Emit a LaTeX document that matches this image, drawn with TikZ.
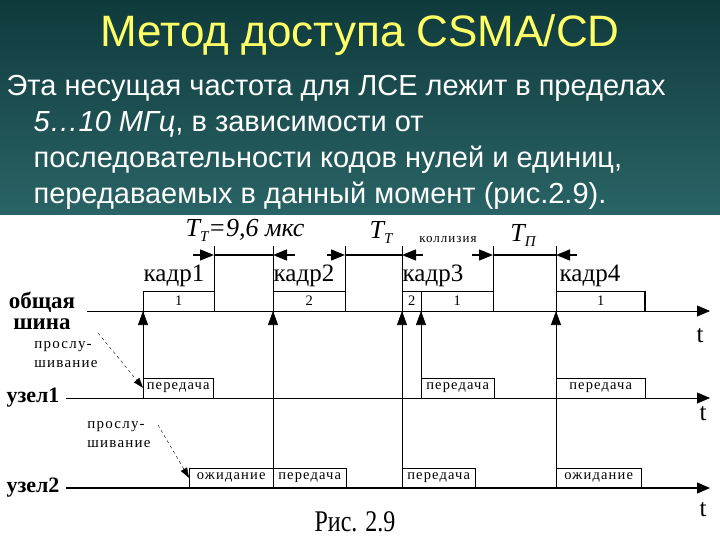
\documentclass[tikz,border=0pt]{standalone}
\usepackage{fontspec}
\setmainfont{Liberation Serif}
\newfontfamily\arial{Liberation Sans}
\newfontfamily\boxfont[LetterSpace=8]{Liberation Serif}
\usetikzlibrary{arrows.meta}
\definecolor{bgtop}{HTML}{0F3A3C}
\definecolor{bgmid}{HTML}{2A6466}
\definecolor{ttl}{HTML}{FFFF66}
\tikzset{
 box/.style={draw,thin,minimum height=20pt,inner sep=0pt,anchor=south west,font=\boxfont\fontsize{14.5}{14.5}\selectfont},
 upa/.style={-{Triangle[length=14pt,width=10pt]},line width=0.6pt},
 dimr/.style={-{Triangle[length=14pt,width=11pt]},line width=1.4pt},
 lbl/.style={font=\fontsize{25}{25}\selectfont},
 tl/.style={font=\fontsize{25}{25}\selectfont},
 body/.style={anchor=west,text=white,font=\arial\fontsize{29}{29}\selectfont},
 axis/.style={-{Triangle[length=13pt,width=11pt]}},
}
\begin{document}
\begin{tikzpicture}[x=1pt,y=-1pt]
\useasboundingbox (0,0) rectangle (720,540);
\shade[top color=bgtop,bottom color=bgmid] (0,0) rectangle (720,215);
\node (title) at (360,35) {\arial\color{ttl}\fontsize{44}{44}\selectfont Метод доступа CSMA/CD};
\node[body] (l1) at (3,88) {Эта несущая частота для ЛСЕ лежит в пределах};
\node[body] (l2) at (30,124) {\itshape 5…10 МГц\upshape, в зависимости от};
\node[body] (l3) at (30,160) {последовательности кодов нулей и единиц,};
\node[body] (l4) at (30,196) {передаваемых в данный момент (рис.2.9).};

% axes
\coordinate (b0) at (87,311); \coordinate (b1) at (710,311);
\coordinate (n10) at (66,398); \coordinate (n11) at (710,398);
\coordinate (n20) at (66,488); \coordinate (n21) at (710,488);
\draw[axis] (b0) -- (b1);
\draw[axis] (n10) -- (n11);
\draw[axis,line width=1.3pt] (n20) -- (n21);
\node[tl] (t1) at (700,336) {t};
\node[tl] (t2) at (703,414) {t};
\node[tl] (t3) at (703,510) {t};
\node[font=\bfseries\fontsize{23}{21}\selectfont,align=center] (bus) at (42,311) {общая\\шина};
\node[font=\bfseries\fontsize{22}{22}\selectfont] (u1) at (33,398) {узел1};
\node[font=\bfseries\fontsize{22}{22}\selectfont] (u2) at (33,488) {узел2};

% frames on bus
\node[box,minimum width=71pt] (f1) at (143,311) {1};
\node[box,minimum width=72pt] (f2) at (273,311) {2};
\node[box,minimum width=19pt] (f3a) at (402,311) {2};
\node[box,minimum width=72pt] (f3b) at (421,311) {1};
\node[box,minimum width=89pt] (f4) at (556,311) {1};
\draw[line width=1.5pt] (645,292) -- (645,311);
\node[lbl] (k1) at (174,276) {кадр1};
\node[lbl] (k2) at (304,276) {кадр2};
\node[lbl] (k3) at (433,276) {кадр3};
\node[lbl] (k4) at (590,276) {кадр4};

% dimension verticals
\coordinate (d1) at (214,246); \coordinate (d2) at (273,246);
\coordinate (d3) at (345,246); \coordinate (d4) at (402,246);
\coordinate (d5) at (493,246); \coordinate (d6) at (556,246);
\draw (d1) -- (214,292); \draw (d3) -- (345,292); \draw (d5) -- (493,311);
\draw (d2) -- (273,292); \draw (d4) -- (402,292); \draw (d6) -- (556,292);
\draw[line width=1.4pt] (214,255) -- (273,255);
\draw[line width=1.4pt] (345,255) -- (402,255);
\draw[line width=1.4pt] (493,255) -- (556,255);
\draw[dimr] (193,255) -- (214,255);
\draw[dimr] (295,255) -- (273,255);
\draw[dimr] (327,255) -- (345,255);
\draw[dimr] (423,255) -- (402,255);
\draw[dimr] (472,255) -- (493,255);
\draw[dimr] (577,255) -- (556,255);
\node[font=\itshape\fontsize{26}{26}\selectfont] (tt1) at (245,230) {T\raisebox{-5pt}{\fontsize{15}{15}\selectfont Т}=9,6 мкс};
\node[font=\itshape\fontsize{26}{26}\selectfont] (tt2) at (381,232) {T\raisebox{-5pt}{\fontsize{15}{15}\selectfont Т}};
\node[font=\boxfont\fontsize{13}{13}\selectfont] (kol) at (448,240) {коллизия};
\node[font=\itshape\fontsize{26}{26}\selectfont] (tp) at (523,235) {T\raisebox{-5pt}{\fontsize{15}{15}\selectfont П}};

% node1 boxes
\node[box,minimum width=70pt] (p1) at (143,398) {передача};
\node[box,minimum width=73pt] (p2) at (421,398) {передача};
\node[box,minimum width=89pt] (p3) at (556,398) {передача};
% node2 boxes
\node[box,minimum width=84pt] (w1) at (189,488) {ожидание};
\node[box,minimum width=73pt] (p4) at (273,488) {передача};
\node[box,minimum width=73pt] (p5) at (402,488) {передача};
\node[box,minimum width=85pt] (w2) at (556,488) {ожидание};

% verticals with up arrows
\draw (143,378) -- (143,311); \draw[upa] (143,327) -- (143,311);
\draw (273,488) -- (273,311); \draw[upa] (273,327) -- (273,311);
\draw (402,488) -- (402,311); \draw[upa] (402,327) -- (402,311);
\draw (421,378) -- (421,311); \draw[upa] (421,327) -- (421,311);
\draw[line width=1pt] (556,488) -- (556,311); \draw[upa] (556,327) -- (556,311);

% listening
\node[font=\boxfont\fontsize{15}{19}\selectfont,align=left] (ls1) at (66,355) {прослу-\\шивание};
\node[font=\boxfont\fontsize{15}{19}\selectfont,align=left] (ls2) at (119,435) {прослу-\\шивание};
\coordinate (a1s) at (98,333); \coordinate (a2s) at (158,425);
\draw[dashed,-{Triangle[length=10pt,width=7pt]}] (a1s) -- (p1.west);
\draw[dashed,-{Triangle[length=10pt,width=7pt]}] (a2s) -- (w1.west);

\node[font=\fontsize{30}{30}\selectfont,xscale=0.8] (cap) at (355,522) {Рис. 2.9};
\end{tikzpicture}
\end{document}
